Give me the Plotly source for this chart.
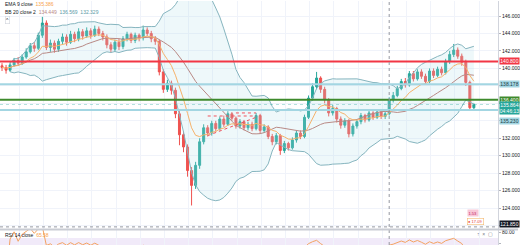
import plotly.graph_objects as go
import pandas as pd

# ---------------- data ----------------
bars = list(range(118))
close = [140.1, 139.8, 140.4, 140.9, 140.6, 141.3, 141.9, 142.6, 142.3, 143.8,
         145.2, 142.4, 142.9, 142.2, 143.1, 143.6, 143.0, 143.9, 143.4, 144.2,
         143.7, 144.3, 143.8, 144.5, 144.0, 143.6, 142.7, 142.2, 143.0, 142.5,
         143.4, 143.9, 143.2, 143.8, 143.5, 144.4, 144.0, 143.4, 143.1, 139.6,
         137.6, 138.3, 137.5, 134.8, 132.4, 131.0, 128.3, 126.6, 128.9, 131.6,
         133.2, 132.6, 133.7, 133.1, 134.2, 133.6, 134.8, 134.3, 133.4, 133.9,
         133.2, 133.6, 133.1, 134.6, 132.9, 133.3, 132.2, 131.6, 132.3, 130.6,
         131.4, 130.9, 131.8, 132.6, 132.2, 134.4, 136.6, 137.9, 138.9, 137.6,
         136.4, 134.9, 135.4, 134.2, 133.5, 134.0, 132.5, 133.4, 133.9, 134.6,
         134.1, 134.9, 134.4, 135.0, 134.5, 134.8, 136.4, 136.9, 137.7, 138.5,
         138.1, 139.4, 138.8, 139.6, 139.1, 138.5, 139.7, 139.2, 139.9, 139.5,
         140.8, 141.6, 142.1, 141.4, 140.7, 138.4, 135.5, 135.864]
open_ = [140.3, 140.1, 139.8, 140.4, 140.9, 140.6, 141.3, 141.9, 142.6, 142.3,
         143.8, 145.2, 142.4, 142.9, 142.2, 143.1, 143.6, 143.0, 143.9, 143.4,
         144.2, 143.7, 144.3, 143.8, 144.5, 144.0, 143.6, 142.7, 142.2, 143.0,
         142.5, 143.4, 143.9, 143.2, 143.8, 143.5, 144.4, 144.0, 143.4, 143.1,
         139.6, 137.6, 138.3, 137.5, 134.8, 132.4, 131.0, 128.3, 126.6, 128.9,
         131.6, 133.2, 132.6, 133.7, 133.1, 134.2, 133.6, 134.8, 134.3, 133.4,
         133.9, 133.2, 133.6, 133.1, 134.6, 132.9, 133.3, 132.2, 131.6, 132.3,
         130.6, 131.4, 130.9, 131.8, 132.6, 132.2, 134.4, 136.6, 137.9, 138.9,
         137.6, 136.4, 134.9, 135.4, 134.2, 133.5, 134.0, 132.5, 133.4, 133.9,
         134.6, 134.1, 134.9, 134.4, 135.0, 134.5, 134.8, 136.4, 136.9, 137.7,
         138.5, 138.1, 139.4, 138.8, 139.6, 139.1, 138.5, 139.7, 139.2, 139.9,
         139.5, 140.8, 141.6, 142.1, 141.4, 140.7, 138.4, 135.5]
high = [140.6, 140.4, 140.7, 141.2, 141.3, 141.6, 142.3, 142.9, 143.0, 144.1,
        145.9, 145.5, 143.3, 143.2, 143.4, 144.0, 143.9, 144.3, 144.2, 144.6,
        144.5, 144.7, 144.6, 144.9, 144.8, 144.3, 143.9, 143.0, 143.3, 143.4,
        143.7, 144.2, 144.1, 144.1, 144.0, 144.9, 144.7, 144.3, 143.7, 143.3,
        139.9, 138.7, 138.6, 137.8, 135.1, 132.8, 131.3, 128.7, 129.3, 132.0,
        133.6, 133.5, 134.0, 134.0, 134.5, 134.6, 135.1, 135.0, 134.5, 134.2,
        134.1, 133.9, 133.9, 134.9, 134.8, 133.6, 133.5, 132.5, 132.6, 132.5,
        131.7, 131.6, 132.1, 132.9, 132.9, 134.7, 136.9, 138.3, 139.6, 139.1,
        137.9, 136.6, 135.8, 135.6, 134.5, 134.3, 134.2, 133.7, 134.2, 134.9,
        134.8, 135.2, 135.1, 135.3, 135.2, 135.1, 136.7, 137.3, 138.0, 138.8,
        138.9, 139.7, 139.7, 139.9, 139.9, 139.4, 140.0, 140.0, 140.2, 140.2,
        141.1, 142.0, 142.8, 142.4, 141.7, 141.0, 138.6, 136.0]
low = [139.7, 139.4, 139.6, 140.2, 140.3, 140.4, 141.1, 141.7, 141.9, 142.1,
       143.5, 142.1, 141.9, 141.8, 141.9, 142.8, 142.6, 142.8, 143.0, 143.1,
       143.3, 143.5, 143.4, 143.6, 143.7, 143.2, 142.3, 141.8, 141.9, 142.1,
       142.2, 143.1, 142.9, 142.9, 143.1, 143.2, 143.7, 143.0, 142.7, 139.2,
       137.2, 137.3, 137.0, 134.3, 131.2, 130.4, 127.6, 124.3, 126.2, 128.5,
       131.3, 132.2, 132.3, 132.8, 132.9, 133.3, 133.4, 134.0, 133.1, 133.1,
       132.9, 132.9, 132.8, 132.9, 132.5, 132.6, 131.9, 131.2, 131.3, 130.1,
       130.3, 130.6, 130.7, 131.5, 131.9, 132.0, 134.2, 136.3, 137.6, 137.2,
       136.0, 134.5, 134.6, 133.8, 133.1, 133.2, 132.1, 132.2, 133.1, 133.6,
       133.8, 133.9, 134.1, 134.2, 134.2, 134.2, 134.6, 136.1, 136.7, 137.5,
       137.8, 137.9, 138.5, 138.6, 138.8, 138.2, 138.3, 138.9, 139.0, 139.2,
       139.3, 140.5, 141.3, 141.1, 140.3, 138.0, 135.2, 135.3]

# right-axis tick labels (values hidden behind the coloured price labels are left blank)
price_ticks = [122, 124, 126, 128, 130, 132, 134, 136, 138, 140, 142, 144, 146, 148]
price_tick_text = ["", "124.000", "126.000", "128.000", "130.000", "132.000", "",
                   "", "", "140.000", "142.000", "144.000", "146.000", "148.000"]

level_values = [140.8, 138.178, 136.4, 135.23]
level_colors = ["#f23645", "#a3d6e2", "#3e8a2c", "#a3d6e2"]
level_labels = ["140.800", "138.178", "136.400", "135.230"]
level_text_colors = ["#ffffff", "#1b3b44", "#ffffff", "#1b3b44"]

last_price = 135.864
last_price_label = "135.864"
countdown_label = "04:46:13"

pattern_h1_x = [51, 63]
pattern_h1_y = [134.55, 134.55]
pattern_h2_x = [58, 63]
pattern_h2_y = [134.9, 134.9]
pattern_d_x = [51, 63]
pattern_d_y = [132.3, 134.4]

cross_bar = 96
cross_price = 121.85
cross_label = "121.850"

legend_ema = "135.386"
legend_bb = ["134.449", "136.569", "132.329"]
legend_rsi = "65.58"

# ---------------- indicators ----------------
s = pd.Series(close)
basis = s.rolling(20, min_periods=3).mean()
sd = s.rolling(20, min_periods=3).std(ddof=0)
upper = basis + 2 * sd
lower = basis - 2 * sd
ema = s.ewm(span=9, adjust=False).mean()
delta = s.diff()
gain = delta.clip(lower=0).ewm(alpha=1 / 14, adjust=True).mean()
loss = (-delta.clip(upper=0)).ewm(alpha=1 / 14, adjust=True).mean()
rsi = 100 - 100 / (1 + gain / loss)

# ---------------- figure ----------------
W, H = 520, 245
XR = 500 / W
fig = go.Figure()

fig.add_trace(go.Scatter(x=bars, y=upper, mode="lines", line=dict(color="#86b5bf", width=1),
                         hoverinfo="skip", xaxis="x", yaxis="y"))
fig.add_trace(go.Scatter(x=bars, y=lower, mode="lines", line=dict(color="#86b5bf", width=1),
                         fill="tonexty", fillcolor="rgba(178,224,234,0.22)",
                         hoverinfo="skip", xaxis="x", yaxis="y"))
fig.add_trace(go.Scatter(x=bars, y=basis, mode="lines", line=dict(color="#b98a86", width=1),
                         hoverinfo="skip", xaxis="x", yaxis="y"))
fig.add_trace(go.Scatter(x=bars, y=ema, mode="lines", line=dict(color="#f6b26b", width=1),
                         hoverinfo="skip", xaxis="x", yaxis="y"))

for xs, ys in [(pattern_h1_x, pattern_h1_y), (pattern_h2_x, pattern_h2_y), (pattern_d_x, pattern_d_y)]:
    fig.add_trace(go.Scatter(x=xs, y=ys, mode="lines", line=dict(color="#f0525e", width=1, dash="dot"),
                             hoverinfo="skip", xaxis="x", yaxis="y"))

fig.add_trace(go.Candlestick(x=bars, open=open_, high=high, low=low, close=close,
                             increasing=dict(line=dict(color="#26a69a", width=1), fillcolor="#26a69a"),
                             decreasing=dict(line=dict(color="#ef5350", width=1), fillcolor="#ef5350"),
                             whiskerwidth=0, hoverinfo="skip", xaxis="x", yaxis="y"))

fig.add_trace(go.Scatter(x=bars, y=rsi, mode="lines", line=dict(color="#f4a261", width=1),
                         hoverinfo="skip", xaxis="x2", yaxis="y2"))

shapes = []
# RSI band
shapes.append(dict(type="rect", xref="x2 domain", yref="y2", x0=0, x1=1, y0=30, y1=70,
                   fillcolor="rgba(180,140,220,0.18)", line=dict(width=0), layer="below"))
# level lines
for v, c in zip(level_values, level_colors):
    shapes.append(dict(type="line", xref="x domain", yref="y", x0=0, x1=1, y0=v, y1=v,
                       line=dict(color=c, width=2)))
shapes.append(dict(type="line", xref="x domain", yref="y", x0=0, x1=1, y0=last_price, y1=last_price,
                   line=dict(color="rgba(38,166,154,0.35)", width=1, dash="dot")))
# crosshair
shapes.append(dict(type="line", xref="x", yref="paper", x0=cross_bar, x1=cross_bar, y0=0, y1=1,
                   line=dict(color="#9598a1", width=1, dash="dot")))
shapes.append(dict(type="line", xref="x domain", yref="y", x0=0, x1=1, y0=cross_price, y1=cross_price,
                   line=dict(color="#9598a1", width=1, dash="dot")))
# pane separator
shapes.append(dict(type="line", xref="paper", yref="paper", x0=0, x1=1, y0=1 - 229.5 / H, y1=1 - 229.5 / H,
                   line=dict(color="#c9ccd3", width=2)))

ann = []
lab_font = dict(family="Liberation Sans, Arial", size=5)


def axis_label(y, text, bg, fc, yref="y"):
    ann.append(dict(xref="paper", yref=yref, x=XR + 0.002, y=y, xanchor="left", yanchor="middle",
                    text=text, showarrow=False, bgcolor=bg, width=19, height=6, borderpad=0,
                    font=dict(lab_font, color=fc), align="center"))


for v, c, t, fc in zip(level_values, level_colors, level_labels, level_text_colors):
    if v == 135.23:
        axis_label(v - 1.3, t, c, fc)
    else:
        axis_label(v, t, c, fc)
axis_label(last_price, last_price_label, "#26a69a", "#ffffff")
axis_label(last_price - 0.7, countdown_label, "#26a69a", "#ffffff")
axis_label(cross_price + 0.3, cross_label, "#131722", "#ffffff")

# legend texts
ann.append(dict(xref="paper", yref="paper", x=3 / W, y=1 - 3.5 / H, xanchor="left", yanchor="middle",
                showarrow=False, font=dict(lab_font, size=5, color="#131722"),
                text="EMA 9 close  <span style='color:#f7a14a'>" + legend_ema + "</span>"))
ann.append(dict(xref="paper", yref="paper", x=3 / W, y=1 - 11 / H, xanchor="left", yanchor="middle",
                showarrow=False, font=dict(lab_font, size=5, color="#131722"),
                text="BB 20 close 2  <span style='color:#b98a86'>" + legend_bb[0] +
                     "</span>  <span style='color:#5b9aa6'>" + legend_bb[1] +
                     "</span>  <span style='color:#5b9aa6'>" + legend_bb[2] + "</span>"))
ann.append(dict(xref="paper", yref="paper", x=5 / W, y=1 - 19 / H, xanchor="left", yanchor="middle",
                showarrow=False, font=dict(lab_font, size=5, color="#131722"), text="^",
                bordercolor="#d1d4dc", borderwidth=0.6, borderpad=0.5, bgcolor="#ffffff"))
ann.append(dict(xref="paper", yref="paper", x=3 / W, y=1 - 235 / H, xanchor="left", yanchor="middle",
                showarrow=False, font=dict(lab_font, size=5, color="#131722"),
                text="RSI 14 close  <span style='color:#f7a14a'>" + legend_rsi + "</span>"))
ann.append(dict(xref="paper", yref="paper", x=497 / W, y=1 - 234 / H, xanchor="right", yanchor="middle",
                showarrow=False, font=dict(lab_font, size=5, color="#787b86"), text="↑  ×  ▢"))
# event badges
ann.append(dict(xref="paper", yref="paper", x=475 / W, y=1 - 213 / H, xanchor="center", yanchor="middle",
                showarrow=False, font=dict(lab_font, size=4, color="#c2185b"), text="1.53",
                bgcolor="#f8c8d8", borderpad=0.5))
ann.append(dict(xref="paper", yref="paper", x=477 / W, y=1 - 221 / H, xanchor="center", yanchor="middle",
                showarrow=False, font=dict(lab_font, size=4, color="#e53935"), text="● 17.09",
                bgcolor="#ffffff", bordercolor="#f5b971", borderwidth=0.6, borderpad=0.5))

fig.update_layout(
    width=W, height=H, margin=dict(l=0, r=0, t=0, b=0),
    paper_bgcolor="#ffffff", plot_bgcolor="#ffffff", showlegend=False,
    shapes=shapes, annotations=ann, hovermode=False,
    xaxis=dict(domain=[0, XR], range=[-0.5, 123], showticklabels=False, rangeslider=dict(visible=False),
               showgrid=True, gridcolor="#f0f3fa", gridwidth=1, tick0=4.3, dtick=6, zeroline=False,
               anchor="y", ticks=""),
    yaxis=dict(domain=[16 / H, 1], range=[121.6, 147.72], side="right", tickvals=price_ticks,
               ticktext=price_tick_text, tickfont=dict(family="Liberation Sans, Arial", size=5, color="#131722"),
               showgrid=True, gridcolor="#f0f3fa", ticks="outside", ticklen=2, tickcolor="#b2b5be",
               showline=True, linecolor="#d1d4dc", zeroline=False, anchor="x"),
    xaxis2=dict(domain=[0, XR], range=[-0.5, 123], showticklabels=False, showgrid=True,
                gridcolor="#f0f3fa", tick0=4.3, dtick=6, zeroline=False, anchor="y2", matches="x"),
    yaxis2=dict(domain=[0, 15 / H], range=[58.3, 83.3], side="right", tickvals=[60, 80],
                ticktext=["60.00", "80.00"], tickfont=dict(family="Liberation Sans, Arial", size=5, color="#131722"),
                showgrid=False, ticks="outside", ticklen=2, tickcolor="#b2b5be",
                showline=True, linecolor="#d1d4dc", zeroline=False, anchor="x2"),
)

fig.write_html("out.html")
